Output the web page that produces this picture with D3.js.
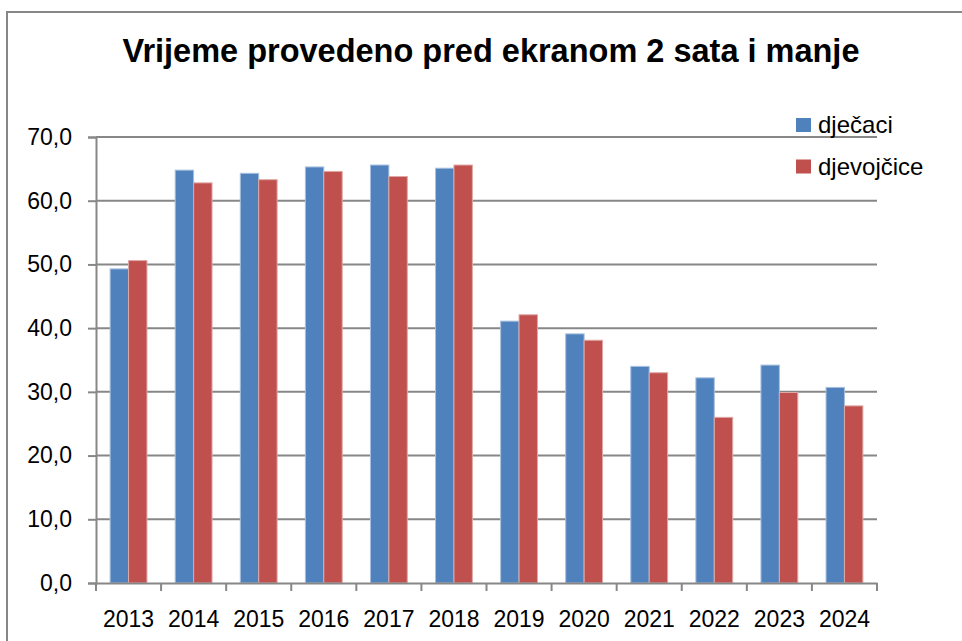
<!DOCTYPE html>
<html>
<head>
<meta charset="utf-8">
<script src="https://cdnjs.cloudflare.com/ajax/libs/d3/7.8.5/d3.min.js"></script>
<style>
  body { margin: 0; background: #fff; }
  svg { display: block; font-family: "Liberation Sans", Arial, sans-serif; }
</style>
</head>
<body>
<svg width="962" height="641"></svg>
<script>
var years = ['2013', '2014', '2015', '2016', '2017', '2018', '2019', '2020', '2021', '2022', '2023', '2024']
var djecaci = [49.3, 64.8, 64.3, 65.3, 65.6, 65.1, 41.1, 39.1, 34.0, 32.2, 34.2, 30.7]
var djevojcice = [50.6, 62.8, 63.3, 64.6, 63.8, 65.6, 42.1, 38.1, 33.0, 26.0, 29.9, 27.8]
var seriesNames = ['dječaci', 'djevojčice']
var yTicks = [0, 10, 20, 30, 40, 50, 60, 70]

var colors = ['#4F81BD', '#C0504D']
var edges = ['#A7C0DE', '#DFA8A6']

var svg = d3.select('svg')

// frame
svg.append('rect')
    .attr('x', 7).attr('y', 12)
    .attr('width', 970).attr('height', 650)
    .attr('fill', 'none')
    .attr('stroke', '#878787')
    .attr('stroke-width', 2)

svg.append('text')
    .attr('x', 491).attr('y', 62)
    .attr('text-anchor', 'middle')
    .style('font-size', '32.5px')
    .style('font-weight', 'bold')
    .text('Vrijeme provedeno pred ekranom 2 sata i manje')

var plotLeft = 96, plotRight = 877, plotTop = 137, plotBottom = 583

var x = d3.scaleBand().domain(years).range([plotLeft, plotRight])
var y = d3.scaleLinear().domain([0, 70]).range([plotBottom, plotTop])

var barW = x.bandwidth() * 0.283

// gridlines
svg.append('g')
    .selectAll('line')
    .data(yTicks.slice(1))
    .enter()
    .append('line')
    .attr('x1', plotLeft).attr('x2', plotRight)
    .attr('y1', function(d){ return y(d) })
    .attr('y2', function(d){ return y(d) })
    .attr('stroke', '#878787')
    .attr('stroke-width', 2)

var rows = years.map(function(yr, i){
    return { year: yr, vals: [djecaci[i], djevojcice[i]] }
})

var groups = svg.append('g')
    .selectAll('g')
    .data(rows)
    .enter()
    .append('g')
    .attr('transform', function(d){
        return `translate(${x(d.year) + x.bandwidth() / 2 - barW}, 0)`
    })

groups.selectAll('rect')
    .data(function(d){ return d.vals })
    .enter()
    .append('rect')
    .attr('x', function(d, i){ return i * barW })
    .attr('y', function(d){ return y(d) })
    .attr('width', barW)
    .attr('height', function(d){ return y(0) - y(d) })
    .attr('fill', function(d, i){ return colors[i] })
    .attr('stroke', function(d, i){ return edges[i] })
    .attr('stroke-width', 1)

// y axis
var yAxis = d3.axisLeft(y)
    .tickValues(yTicks)
    .tickSize(8)
    .tickPadding(16)
    .tickFormat(function(d){ return d3.format('.1f')(d).replace('.', ',') })

var gy = svg.append('g')
    .attr('transform', `translate(${plotLeft}, 0)`)
    .call(yAxis)
gy.select('.domain').attr('stroke', '#878787').attr('stroke-width', 2)
gy.selectAll('.tick line').attr('stroke', '#878787').attr('stroke-width', 2)
gy.selectAll('.tick text')
    .style('font-size', '23px')
    .style('font-family', '"Liberation Sans", Arial, sans-serif')
    .attr('fill', '#000')

// x axis
var xAxis = d3.axisBottom(x).tickSize(0).tickPadding(28)
var gx = svg.append('g')
    .attr('transform', `translate(0, ${plotBottom})`)
    .call(xAxis)
gx.select('.domain').attr('stroke', '#878787').attr('stroke-width', 2)
gx.selectAll('.tick text')
    .style('font-size', '23px')
    .style('font-family', '"Liberation Sans", Arial, sans-serif')
    .attr('fill', '#000')

// tick marks on band edges
gx.selectAll('.edge')
    .data(years.concat(['end']))
    .enter()
    .append('line')
    .attr('x1', function(d, i){ return plotLeft + i * x.step() })
    .attr('x2', function(d, i){ return plotLeft + i * x.step() })
    .attr('y1', 0).attr('y2', 8)
    .attr('stroke', '#878787')
    .attr('stroke-width', 2)

// legend
var legend = svg.append('g')
    .selectAll('g')
    .data(seriesNames)
    .enter()
    .append('g')
    .attr('transform', function(d, i){ return `translate(796, ${118 + i * 41.5})` })

legend.append('rect')
    .attr('width', 15).attr('height', 14)
    .attr('fill', function(d, i){ return colors[i] })

legend.append('text')
    .attr('x', 22).attr('y', 15)
    .style('font-size', '24px')
    .text(function(d){ return d })
</script>
</body>
</html>
